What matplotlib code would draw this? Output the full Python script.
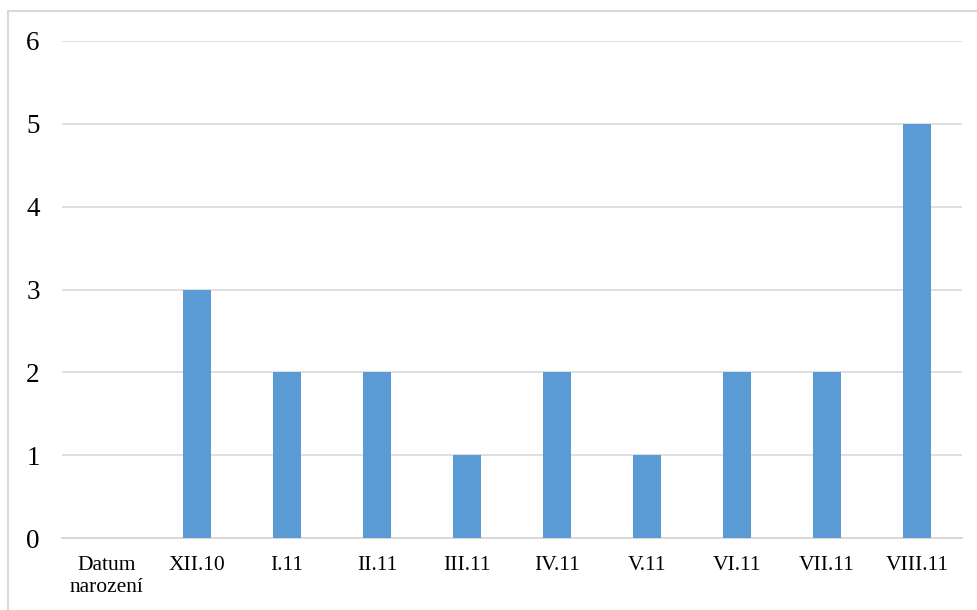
import numpy as np
import matplotlib.pyplot as plt
from matplotlib.patches import Rectangle

categories = ["Datum\nnarození", "XII.10", "I.11", "II.11", "III.11",
              "IV.11", "V.11", "VI.11", "VII.11", "VIII.11"]
counts = [0, 3, 2, 2, 1, 2, 1, 2, 2, 5]

plt.rcParams['font.family'] = ['Liberation Serif', 'DejaVu Serif']

fig = plt.figure(figsize=(9.78, 6.10), dpi=100)
ax = fig.add_axes([62 / 978, 1 - 538 / 610, 900 / 978, 497 / 610])

# outer chart border (cut off at right/bottom like the original)
fig.patches.append(Rectangle((8 / 978, -0.1), 1.1, 1 - 11 / 610 + 0.1,
                             transform=fig.transFigure, fill=False,
                             edgecolor="#d9d9d9", linewidth=1.5))

x = np.arange(len(categories))
ax.bar(x, counts, width=0.31, color="#5b9bd5", zorder=3)

ax.set_xlim(-0.5, len(categories) - 0.5)
ax.set_ylim(0, 6)
ax.set_yticks(range(7))
ax.set_xticks(x)
ax.set_xticklabels(categories, fontsize=15.5)
ax.tick_params(axis="y", labelsize=19.5, length=0, pad=16)
ax.tick_params(axis="x", length=0, pad=13)

ax.grid(axis="y", color="#d9d9d9", linewidth=1.2, zorder=0)
for s in ["top", "right", "left"]:
    ax.spines[s].set_visible(False)
ax.spines["bottom"].set_color("#d9d9d9")
ax.spines["bottom"].set_linewidth(1.5)

fig.savefig("out.png", dpi=100)
